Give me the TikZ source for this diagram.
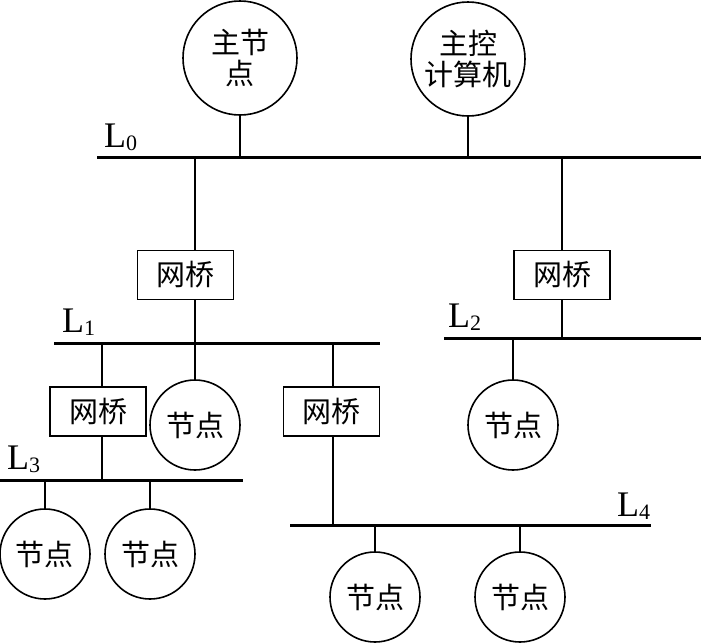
\documentclass[tikz,border=0pt]{standalone}
\usepackage{fontspec}
\setmainfont{Liberation Serif}
\newfontfamily\cjk{Noto Sans CJK SC}
\newcommand\lsubscr[1]{\raisebox{-3pt}{\fontsize{22}{22}\selectfont #1}}
\begin{document}
\begin{tikzpicture}[x=1pt,y=-1pt,
  bus/.style={line width=3pt},
  wire/.style={line width=1.6pt},
  nodecirc/.style={circle,draw,line width=1.6pt,inner sep=0pt,align=center,font=\cjk\fontsize{29}{31}\selectfont},
  bridge/.style={rectangle,draw,line width=1.6pt,minimum width=96pt,minimum height=49pt,inner sep=0pt,font=\cjk\fontsize{29}{31}\selectfont},
  buslabel/.style={anchor=base west,inner sep=0pt,font=\fontsize{36}{36}\selectfont}]
\useasboundingbox (0,0) rectangle (701,643);

% buses
\coordinate (L0w) at (97,157);  \coordinate (L0e) at (701,157);
\coordinate (L1w) at (54,343);  \coordinate (L1e) at (380,343);
\coordinate (L2w) at (444,338); \coordinate (L2e) at (701,338);
\coordinate (L3w) at (0,480);   \coordinate (L3e) at (243,480);
\coordinate (L4w) at (290,525); \coordinate (L4e) at (651,525);
\draw[bus] (L0w) -- (L0e);
\draw[bus] (L1w) -- (L1e);
\draw[bus] (L2w) -- (L2e);
\draw[bus] (L3w) -- (L3e);
\draw[bus] (L4w) -- (L4e);

\node[buslabel] (l0) at (104,147) {L\lsubscr{0}};
\node[buslabel] (l1) at (62,332) {L\lsubscr{1}};
\node[buslabel] (l2) at (448,327) {L\lsubscr{2}};
\node[buslabel] (l3) at (7,469) {L\lsubscr{3}};
\node[buslabel] (l4) at (617,516) {L\lsubscr{4}};

% nodes
\node[nodecirc,minimum size=114pt] (m) at (240,58) {主节\\点};
\node[nodecirc,minimum size=114pt] (c) at (468,59) {主控\\计算机};
\node[bridge] (b1) at (185.5,275) {网桥};
\node[bridge] (b2) at (562,275) {网桥};
\node[bridge] (b3) at (98,411.5) {网桥};
\node[bridge] (b4) at (331.5,411.5) {网桥};
\node[nodecirc,minimum size=90pt] (n1) at (195,425) {节点};
\node[nodecirc,minimum size=90pt] (n2) at (513,425) {节点};
\node[nodecirc,minimum size=90pt] (n3) at (45,554) {节点};
\node[nodecirc,minimum size=90pt] (n4) at (150,554) {节点};
\node[nodecirc,minimum size=90pt] (n5) at (375,597) {节点};
\node[nodecirc,minimum size=90pt] (n6) at (520,597) {节点};

% taps on buses
\coordinate (t0m) at (240,157);
\coordinate (t0c) at (468,157);
\coordinate (t0a) at (195,157);
\coordinate (t0b) at (562,157);
\coordinate (t1a) at (195,343);
\coordinate (t1b) at (102,343);
\coordinate (t1c) at (333,343);
\coordinate (t2a) at (562,338);
\coordinate (t2b) at (513,338);
\coordinate (t3a) at (102,480);
\coordinate (t3b) at (45,480);
\coordinate (t3c) at (150,480);
\coordinate (t4a) at (333,525);
\coordinate (t4b) at (375,525);
\coordinate (t4c) at (520,525);

% connectors
\draw[wire] (m.south) -- (t0m);
\draw[wire] (c.south) -- (t0c);
\draw[wire] (t0a) -- (t0a |- b1.north);
\draw[wire] (t0a |- b1.south) -- (t1a);
\draw[wire] (t0b) -- (t0b |- b2.north);
\draw[wire] (t0b |- b2.south) -- (t2a);
\draw[wire] (t1b) -- (t1b |- b3.north);
\draw[wire] (t1b |- b3.south) -- (t3a);
\draw[wire] (t1a) -- (n1.north);
\draw[wire] (t1c) -- (t1c |- b4.north);
\draw[wire] (t1c |- b4.south) -- (t4a);
\draw[wire] (t2b) -- (n2.north);
\draw[wire] (t3b) -- (n3.north);
\draw[wire] (t3c) -- (n4.north);
\draw[wire] (t4b) -- (n5.north);
\draw[wire] (t4c) -- (n6.north);
\end{tikzpicture}
\end{document}
